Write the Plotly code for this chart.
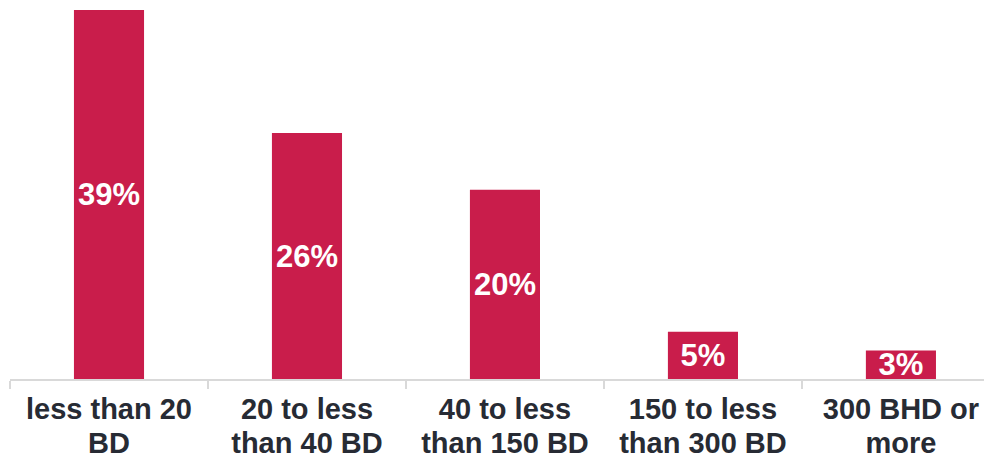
import plotly.graph_objects as go

categories = ["less than 20<br>BD", "20 to less<br>than 40 BD", "40 to less<br>than 150 BD",
              "150 to less<br>than 300 BD", "300 BHD or<br>more"]
values = [39, 26, 20, 5, 3]
labels = ["39%", "26%", "20%", "5%", "3%"]

FONT = "Liberation Sans, Arial, sans-serif"


def fmt_tick(c):
    return "<br>".join("<b><span style='font-size:29px'>%s</span></b>" % ln for ln in c.split("<br>"))


fig = go.Figure(go.Bar(
    x=categories, y=values, text=["<b>%s</b>" % t for t in labels],
    textposition="inside", insidetextanchor="middle", textangle=0,
    textfont=dict(family=FONT, size=31, color="white"),
    marker=dict(color="#C91D4B", line=dict(width=0)),
    width=0.354, cliponaxis=False,
))
fig.update_layout(
    width=984, height=451,
    margin=dict(l=2, r=0, t=2, b=80),
    paper_bgcolor="white", plot_bgcolor="white",
    showlegend=False,
    uniformtext=dict(minsize=31, mode="show"),
    font=dict(family=FONT),
)
fig.update_xaxes(
    type="category",
    range=[-0.5, 4.46],
    tickmode="array", tickvals=categories, ticktext=[fmt_tick(c) for c in categories],
    tickson="boundaries", ticks="outside", ticklen=8, tickcolor="#D9D9D9", tickwidth=2,
    showline=True, linecolor="#D9D9D9", linewidth=2,
    showgrid=False, zeroline=False, automargin=False,
    tickfont=dict(family=FONT, size=26, color="#272B34"),
    ticklabelstandoff=7,
    tickangle=0,
)
fig.update_yaxes(range=[0, 39], visible=False, showgrid=False, zeroline=False, automargin=False)
fig.write_html("out.html")
